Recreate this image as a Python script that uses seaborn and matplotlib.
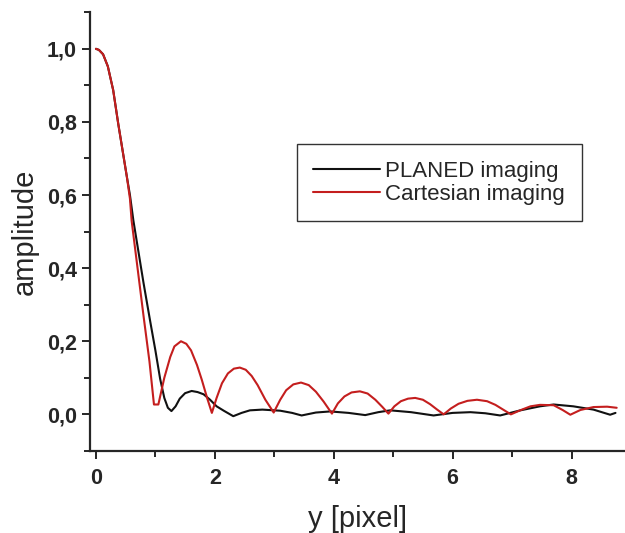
import numpy as np
import pandas as pd
import matplotlib
matplotlib.use("Agg")
import matplotlib.pyplot as plt
from matplotlib.ticker import MultipleLocator, FuncFormatter
import seaborn as sns

# --- data ---
planed_x = [0.0, 0.05, 0.12, 0.2, 0.29, 0.375, 0.46, 0.52, 0.572, 0.63, 0.7, 0.8, 0.91,
            1.0, 1.08, 1.15, 1.21, 1.27, 1.34, 1.41, 1.5, 1.61, 1.71, 1.81, 1.92, 2.03,
            2.15, 2.31, 2.45, 2.59, 2.8, 3.1, 3.3, 3.46, 3.7, 3.94, 4.25, 4.53, 4.75,
            4.95, 5.3, 5.68, 6.0, 6.3, 6.55, 6.8, 7.14, 7.47, 7.7, 8.03, 8.37, 8.65, 8.74]
planed_y = [1.0, 0.997, 0.985, 0.952, 0.887, 0.795, 0.71, 0.65, 0.60, 0.53, 0.46, 0.36, 0.257,
            0.175, 0.097, 0.045, 0.018, 0.009, 0.022, 0.043, 0.058, 0.064, 0.061, 0.055, 0.04, 0.022,
            0.01, -0.005, 0.004, 0.011, 0.013, 0.01, 0.004, -0.003, 0.005, 0.008, 0.004, -0.002, 0.006,
            0.011, 0.006, -0.003, 0.004, 0.006, 0.003, -0.003, 0.011, 0.022, 0.027, 0.022, 0.013, -0.001, 0.004]

cart_x = [0.0, 0.05, 0.12, 0.2, 0.29, 0.375, 0.46, 0.52, 0.572, 0.6, 0.7, 0.8, 0.9, 0.976,
          1.05, 1.15, 1.25, 1.32, 1.43, 1.52, 1.6, 1.7, 1.78, 1.87, 1.95,
          2.03, 2.12, 2.22, 2.32, 2.42, 2.52, 2.62, 2.72, 2.85, 2.99,
          3.1, 3.2, 3.32, 3.45, 3.58, 3.7, 3.83, 3.97,
          4.07, 4.18, 4.3, 4.44, 4.57, 4.7, 4.82, 4.92,
          5.02, 5.13, 5.25, 5.37, 5.5, 5.62, 5.74, 5.85,
          5.97, 6.1, 6.25, 6.41, 6.58, 6.72, 6.86, 6.98,
          7.15, 7.31, 7.47, 7.7, 7.85, 7.98, 8.15, 8.37, 8.6, 8.76]
cart_y = [1.0, 0.997, 0.985, 0.952, 0.887, 0.795, 0.71, 0.65, 0.59, 0.53, 0.40, 0.27, 0.145, 0.027,
          0.027, 0.10, 0.157, 0.186, 0.20, 0.193, 0.175, 0.135, 0.095, 0.045, 0.004,
          0.045, 0.085, 0.112, 0.125, 0.128, 0.122, 0.105, 0.08, 0.04, 0.005,
          0.04, 0.066, 0.082, 0.087, 0.08, 0.062, 0.035, 0.002,
          0.03, 0.049, 0.06, 0.063, 0.057, 0.04, 0.02, 0.002,
          0.022, 0.036, 0.043, 0.045, 0.04, 0.028, 0.013, 0.0,
          0.016, 0.029, 0.037, 0.04, 0.036, 0.026, 0.012, 0.0,
          0.012, 0.022, 0.026, 0.025, 0.012, -0.001, 0.012, 0.02, 0.021, 0.018]

series_names = ["PLANED imaging", "Cartesian imaging"]
series_colors = ["#111111", "#c41e1e"]

df = pd.concat([
    pd.DataFrame({"x": planed_x, "y": planed_y, "series": series_names[0]}),
    pd.DataFrame({"x": cart_x, "y": cart_y, "series": series_names[1]}),
], ignore_index=True)

sns.set_style("ticks")
plt.rcParams["font.family"] = ["Liberation Sans", "DejaVu Sans"]

fig = plt.figure(figsize=(6.25, 5.33), dpi=100)
ax = fig.add_axes([0.144, 0.154, 0.856, 0.823])

sns.lineplot(data=df, x="x", y="y", hue="series", palette=series_colors,
             hue_order=series_names, sort=False, estimator=None,
             linewidth=1.5, ax=ax)

ax.set_xlim(-0.1, 8.9)
ax.set_ylim(-0.1, 1.1)
ax.xaxis.set_major_locator(MultipleLocator(2))
ax.xaxis.set_minor_locator(MultipleLocator(1))
ax.yaxis.set_major_locator(MultipleLocator(0.2))
ax.yaxis.set_minor_locator(MultipleLocator(0.1))
ax.yaxis.set_major_formatter(FuncFormatter(lambda v, p: f"{v:.1f}".replace(".", ",")))
ax.xaxis.set_major_formatter(FuncFormatter(lambda v, p: f"{v:.0f}"))

ax.tick_params(which="major", length=6, width=1.4, labelsize=15.5)
ax.tick_params(axis="x", which="major", pad=6)
ax.tick_params(which="minor", length=4, width=1.4)
for lbl in ax.get_xticklabels() + ax.get_yticklabels():
    lbl.set_fontweight("bold")

sns.despine(ax=ax)
for s in ["left", "bottom"]:
    ax.spines[s].set_linewidth(1.6)

ax.set_xlabel("y [pixel]", fontsize=21, labelpad=12)
ax.set_ylabel("amplitude", fontsize=21, labelpad=6)

leg = ax.legend(loc="upper right", bbox_to_anchor=(0.931, 0.730),
                bbox_transform=fig.transFigure, borderaxespad=0,
                fontsize=16, fancybox=False, framealpha=1, edgecolor="#333333",
                handlelength=3.0, handletextpad=0.25, labelspacing=0.1,
                borderpad=0.75)
leg.get_frame().set_linewidth(1.0)

fig.savefig("out.png", dpi=100)
